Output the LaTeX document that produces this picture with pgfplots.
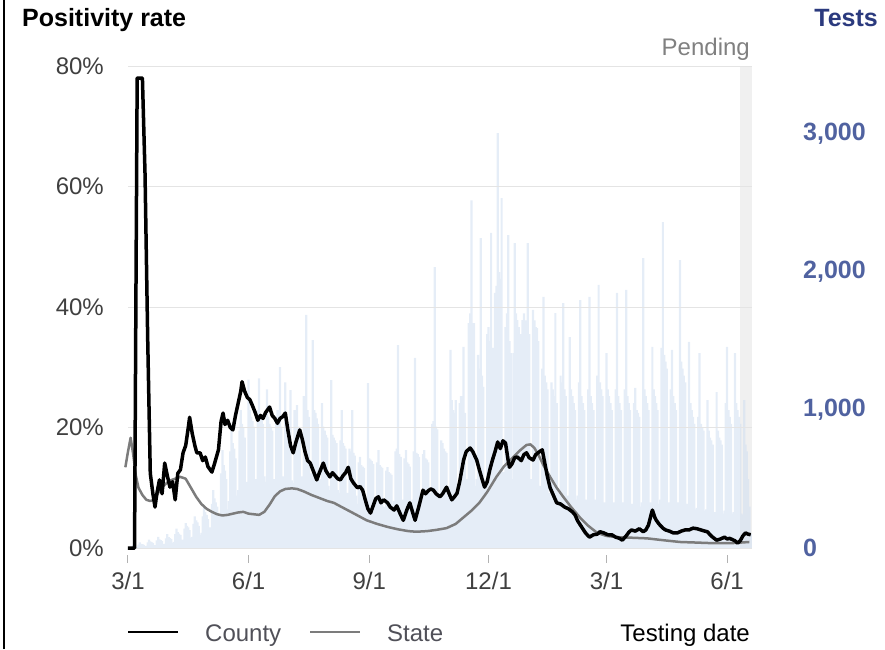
\documentclass[border=0pt]{standalone}
\usepackage{fontspec}
\setmainfont{Liberation Sans}
\usepackage{pgfplots}
\pgfplotsset{compat=1.18}
\definecolor{barblue}{RGB}{208,222,241}
\definecolor{gridgray}{HTML}{E4E4E4}
\definecolor{statec}{HTML}{7C7C7C}
\definecolor{tickblue}{HTML}{5062A0}
\definecolor{titlenavy}{HTML}{2B3A7E}
\definecolor{pendgray}{HTML}{F0F0F0}
\definecolor{ticktext}{HTML}{404040}
\definecolor{legtext}{HTML}{505058}
\newcommand\fs{\fontsize{24}{28}\selectfont}
\newcommand\fb{\fontsize{25}{29}\selectfont\bfseries}
\begin{document}
\begin{tikzpicture}[x=1pt,y=1pt]
\path[use as bounding box] (-128,-101) rectangle (757,548);
\draw[line width=2pt] (-124,-101) -- (-124,548);
% ---------- tests (bars), right axis ----------
\begin{axis}[at={(0,0)}, anchor=south west, scale only axis,
  width=624pt, height=482pt,
  xmin=0, xmax=476, ymin=0, ymax=3493,
  hide x axis, axis y line*=right, axis line style={draw=none},
  ytick={0,1000,2000,3000}, yticklabels={0,{1,000},{2,000},{3,000}},
  ytick style={draw=none},
  yticklabel style={anchor=west, inner sep=0pt, xshift=51pt, font=\fb, text=tickblue},
  clip=false]
\fill[pendgray] (axis cs:467,0) rectangle (axis cs:476,3493);
\addplot[ybar, bar width=1.7, bar shift=0pt, fill=barblue, fill opacity=0.55, draw=none] coordinates {
(0,0)(1,0)(2,5)(3,10)(4,20)(5,12)(6,4)
(7,8)(8,25)(9,40)(10,30)(11,28)(12,22)(13,10)
(14,15)(15,40)(16,60)(17,48)(18,42)(19,38)(20,18)
(21,20)(22,55)(23,80)(24,62)(25,58)(26,50)(27,28)
(28,30)(29,70)(30,100)(31,78)(32,72)(33,65)(34,35)
(35,45)(36,100)(37,140)(38,115)(39,105)(40,95)(41,55)
(42,60)(43,140)(44,180)(45,160)(46,150)(47,130)(48,75)
(49,80)(50,175)(51,230)(52,200)(53,185)(54,160)(55,95)
(56,110)(57,230)(58,300)(59,260)(60,240)(61,210)(62,125)
(63,150)(64,320)(65,420)(66,360)(67,330)(68,300)(69,170)
(70,250)(71,540)(72,710)(73,600)(74,560)(75,500)(76,280)
(77,340)(78,700)(79,880)(80,760)(81,720)(82,650)(83,380)
(84,420)(85,850)(86,1000)(87,900)(88,870)(89,800)(90,450)
(91,480)(92,1220)(93,1000)(94,950)(95,920)(96,880)(97,500)
(98,500)(99,1000)(100,1230)(101,960)(102,930)(103,900)(104,520)
(105,480)(106,1150)(107,950)(108,900)(109,880)(110,850)(111,500)
(112,500)(113,950)(114,1000)(115,920)(116,1310)(117,880)(118,520)
(119,480)(120,1200)(121,950)(122,900)(123,870)(124,1145)(125,490)
(126,470)(127,1000)(128,920)(129,1036)(130,880)(131,850)(132,480)
(133,520)(134,1100)(135,1050)(136,1690)(137,1000)(138,950)(139,540)
(140,500)(141,1507)(142,1000)(143,980)(144,940)(145,900)(146,500)
(147,450)(148,1050)(149,880)(150,850)(151,820)(152,800)(153,450)
(154,420)(155,1217)(156,820)(157,800)(158,780)(159,760)(160,420)
(161,400)(162,780)(163,1000)(164,760)(165,740)(166,720)(167,400)
(168,380)(169,720)(170,700)(171,1000)(172,690)(173,670)(174,380)
(175,320)(176,620)(177,660)(178,600)(179,590)(180,580)(181,320)
(182,330)(183,1195)(184,650)(185,640)(186,630)(187,610)(188,330)
(189,300)(190,620)(191,710)(192,600)(193,590)(194,580)(195,300)
(196,300)(197,560)(198,587)(199,550)(200,540)(201,530)(202,300)
(203,340)(204,700)(205,720)(206,1470)(207,680)(208,660)(209,350)
(210,320)(211,650)(212,710)(213,620)(214,610)(215,590)(216,320)
(217,350)(218,700)(219,1377)(220,690)(221,680)(222,660)(223,350)
(224,330)(225,680)(226,710)(227,650)(228,640)(229,620)(230,330)
(231,400)(232,900)(233,920)(234,2036)(235,880)(236,860)(237,400)
(238,380)(239,780)(240,760)(241,720)(242,700)(243,690)(244,380)
(245,450)(246,1435)(247,1072)(248,1000)(249,980)(250,1072)(251,450)
(252,450)(253,1050)(254,1100)(255,1000)(256,1457)(257,980)(258,450)
(259,500)(260,1630)(261,1700)(262,2520)(263,1600)(264,1630)(265,450)
(266,500)(267,1400)(268,1300)(269,2246)(270,1250)(271,1167)(272,450)
(273,500)(274,1550)(275,1600)(276,1500)(277,2283)(278,1450)(279,500)
(280,1848)(281,1900)(282,3007)(283,2000)(284,1950)(285,2536)(286,550)
(287,550)(288,1600)(289,1700)(290,2268)(291,1500)(292,1413)(293,500)
(294,1413)(295,2210)(296,1700)(297,1652)(298,1600)(299,1550)(300,500)
(301,1652)(302,1700)(303,1650)(304,1600)(305,2210)(306,1550)(307,500)
(308,450)(309,1725)(310,1650)(311,1600)(312,1594)(313,1500)(314,450)
(315,420)(316,1300)(317,1819)(318,1250)(319,1200)(320,1150)(321,400)
(322,400)(323,1200)(324,1150)(325,1100)(326,1703)(327,1050)(328,380)
(329,400)(330,1250)(331,1200)(332,1775)(333,1150)(334,1100)(335,380)
(336,380)(337,1529)(338,1150)(339,1100)(340,1050)(341,1000)(342,350)
(343,380)(344,1200)(345,1797)(346,1100)(347,1050)(348,1000)(349,350)
(350,350)(351,1150)(352,1819)(353,1100)(354,1050)(355,1000)(356,330)
(357,350)(358,1250)(359,1906)(360,1200)(361,1150)(362,1100)(363,330)
(364,330)(365,1413)(366,1150)(367,1100)(368,1050)(369,1000)(370,320)
(371,330)(372,1150)(373,1848)(374,1100)(375,1050)(376,1000)(377,320)
(378,330)(379,1150)(380,1870)(381,1100)(382,1050)(383,1000)(384,320)
(385,320)(386,1050)(387,1160)(388,1000)(389,980)(390,950)(391,300)
(392,330)(393,2100)(394,1150)(395,1100)(396,1050)(397,1000)(398,320)
(399,330)(400,1457)(401,1150)(402,1100)(403,1050)(404,1000)(405,320)
(406,350)(407,1450)(408,2362)(409,1400)(410,1350)(411,1300)(412,330)
(413,330)(414,1150)(415,1435)(416,1100)(417,1050)(418,1000)(419,320)
(420,330)(421,2087)(422,1350)(423,1300)(424,1250)(425,1200)(426,320)
(427,300)(428,1493)(429,1050)(430,1000)(431,950)(432,900)(433,280)
(434,290)(435,950)(436,1413)(437,900)(438,870)(439,850)(440,270)
(441,280)(442,1072)(443,850)(444,800)(445,780)(446,750)(447,260)
(448,260)(449,1130)(450,850)(451,800)(452,780)(453,750)(454,250)
(455,270)(456,1050)(457,1457)(458,1000)(459,950)(460,900)(461,250)
(462,260)(463,1413)(464,1050)(465,1000)(466,950)(467,900)(468,250)
(469,240)(470,1072)(471,750)(472,700)(473,500)(474,300)(475,100)
};
\end{axis}
% ---------- positivity rate, left axis ----------
\begin{axis}[at={(0,0)}, anchor=south west, scale only axis,
  width=624pt, height=482pt,
  xmin=0, xmax=476, ymin=0, ymax=80,
  axis x line*=bottom, axis y line*=left, axis line style={draw=none},
  xtick={0,92,184,275,365,457}, xticklabels={3/1,6/1,9/1,12/1,3/1,6/1},
  ytick={0,20,40,60,80}, yticklabels={0\%,20\%,40\%,60\%,80\%},
  ymajorgrids, grid style={gridgray, line width=1pt},
  ytick style={draw=none},
  tick align=inside, major tick length=8pt,
  xtick style={draw=gray!60, line width=1pt, yshift=-15pt},
  yticklabel style={anchor=east, inner sep=0pt, xshift=-24pt, font=\fs, text=ticktext},
  xticklabel style={anchor=base, inner sep=0pt, yshift=-41pt, font=\fs, text=ticktext},
  clip=false]
\addplot[statec, line width=2.5pt, line join=round] coordinates {
(-2,13.4)(0,16)(2,18.3)(4,15.5)(6,12)(8,10)(11,8.8)(14,8)(17,7.8)(20,8)
(24,9.5)(28,10.5)(32,11.2)(36,11.5)(40,11.8)(44,11.5)(48,10)(52,8.5)(56,7.3)(60,6.5)
(64,6)(68,5.6)(72,5.4)(76,5.5)(80,5.7)(84,5.9)(88,6.0)(92,5.7)(96,5.6)(100,5.5)
(104,6)(108,7.2)(112,8.6)(116,9.4)(120,9.8)(125,9.9)(129,9.8)(134,9.4)(140,8.8)(146,8.3)
(152,7.8)(157,7.5)(163,6.8)(170,6)(176,5.3)(182,4.6)(190,4)(198,3.5)(206,3.1)(214,2.8)
(220,2.7)(228,2.8)(235,3.0)(243,3.3)(250,4)(256,5.1)(262,6.2)(268,7.5)(274,9.3)(281,11.8)
(287,13.6)(294,15.1)(299,16.2)(304,17.1)(307,17.2)(310,16.6)(313,15.5)(317,13.7)(322,11.8)(327,10)
(332,8.5)(338,6.8)(345,5.0)(351,3.7)(358,2.5)(365,2.0)(373,1.8)(385,1.7)(396,1.6)(408,1.3)
(421,1.0)(434,0.9)(446,0.8)(460,0.8)(474,1.0)
};
\addplot[black, line width=3.5pt, line join=round] coordinates {
(0,0)(5,0)(6,40)(7,78)(11,78)(13,62)(15,35)(17,12.4)(19,9)(20.6,6.8)
(22,9)(24,11.3)(26,9)(28,14.1)(30,12)(32,10.1)(34,11)(36,8)(38,12.4)(40,13)
(42,15.8)(44,17)(46,20)(47,21.7)(49,19)(51,17)(52.5,15.8)(55,15.8)(57,14.5)(59,15.1)
(61,13.5)(64,12.6)(66,14)(69,16.3)(71,21)(72.5,22.4)(74,20.5)(76,21.2)(78,20)(80,19.6)
(82,22)(84,24)(86,26)(87,27.6)(89,26)(91,25)(93,24.6)(95,23.6)(97,22.5)(99,21.2)
(101,22)(103,21.5)(105,22.5)(108,23.4)(110,22)(112,21.5)(114,20.7)(116,21.5)(118,21.8)(120,22.4)
(122,19.5)(124,17)(126,15.8)(128,17.5)(131,19.6)(133,18)(135,16)(137,14.5)(139,14.1)(141,13)
(144,11.3)(146,12.5)(149,14.1)(151,12.8)(154,11.8)(156,12.5)(158,12)(160,11.5)(162,11.3)(164,12)
(166,12.5)(168,13.4)(170,11.5)(172,10.8)(175,10)(177,10.2)(179,9.6)(181,8)(183,6.5)(185,5.8)
(187,7)(189,8.2)(191,8.5)(193,7.5)(195,8)(198,7.5)(200,6.8)(203,6.3)(205,7)(208,5.5)
(210,4.6)(213,6.5)(215,7.5)(217,6)(219,4.6)(222,7)(225,9.6)(227,9)(229,9.5)(231,9.8)
(233,9.6)(235,9)(238,8.5)(240,9)(243,10.1)(245,9)(247,8)(249,8.5)(251,9.1)(253,11)
(256,14.6)(258,16)(261,16.6)(263,16)(266,14.6)(268,13)(270,11.5)(272,10.1)(274,11)(276,13)
(278,14.6)(280,16)(282,17.6)(284,16.5)(286,17.8)(288,17.4)(290,14.5)(291,13.4)(293,14)(295,15)
(297,15.1)(300,14.5)(302,15.5)(304,15.8)(306,15)(309,14.6)(311,15.5)(314,16)(316,16.3)(318,14)
(320,11.8)(322,10)(324,9)(327,7.5)(330,7.3)(333,6.8)(336,6.5)(339,6.0)(341,5.5)(343,4.5)
(346,3.5)(349,2.5)(352,1.8)(355,2.2)(358,2.3)(360,2.7)(363,2.5)(366,2.2)(369,2.2)(372,1.8)
(375,1.6)(377,1.3)(380,2)(382,2.6)(384,3.0)(387,2.8)(390,3.2)(393,2.7)(395,3)(397,3.8)
(399,5.5)(400,6.3)(402,5)(403,4.6)(405,4)(408,3.3)(410,3)(413,2.8)(416,2.5)(419,2.5)
(422,2.8)(425,3)(428,3)(431,3.3)(434,3.2)(437,3)(440,2.8)(442,2.7)(444,2.2)(446,1.8)
(449,1.3)(452,1.5)(455,1.8)(457,1.5)(459,1.6)(461,1.4)(463,1.2)(465,0.8)(467,1.2)(469,2)
(471,2.5)(473,2.3)(475,2.2)
};
\end{axis}
% ---------- titles and legend ----------
\node[anchor=base west, inner sep=0pt, font=\fb] at (-106,521) {Positivity rate};
\node[anchor=base east, inner sep=0pt, font=\fb, text=titlenavy] at (750,521) {Tests};
\node[anchor=base east, inner sep=0pt, font=\fs, text=gray] at (622,492) {Pending};
\draw[black, line width=2pt] (0,-84) -- (50,-84);
\node[anchor=base west, inner sep=0pt, font=\fs, text=legtext] at (77,-93) {County};
\draw[statec, line width=2pt] (182,-84) -- (232,-84);
\node[anchor=base west, inner sep=0pt, font=\fs, text=legtext] at (259,-93) {State};
\node[anchor=base east, inner sep=0pt, font=\fs, text=black] at (622,-93) {Testing date};
\end{tikzpicture}
\end{document}
